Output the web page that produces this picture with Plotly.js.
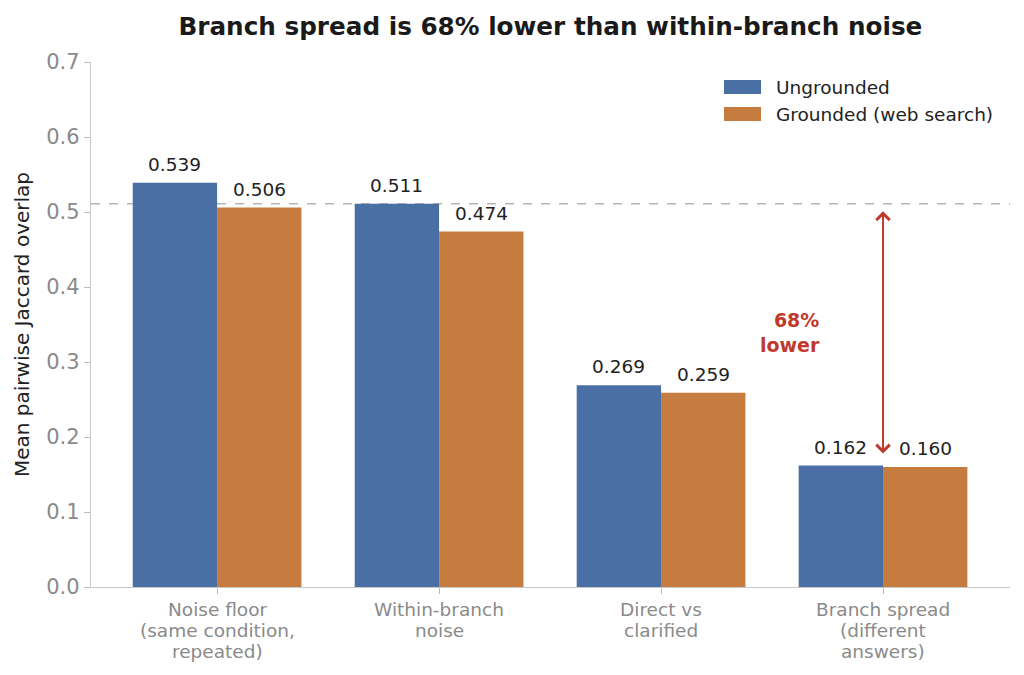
<!DOCTYPE html>
<html>
<head>
<meta charset="utf-8">
<script src="https://cdn.plot.ly/plotly-3.0.1.min.js"></script>
<style>
  html, body { margin: 0; padding: 0; background: #fff; }
  #chart { width: 1024px; height: 675px; }
</style>
</head>
<body>
<div id="chart"></div>
<script>
// DATA
const categories = [
  'Noise floor<br>(same condition,<br>repeated)',
  'Within-branch<br>noise',
  'Direct vs<br>clarified',
  'Branch spread<br>(different<br>answers)'
];
const ungrounded = [0.539, 0.511, 0.269, 0.162];
const grounded = [0.506, 0.474, 0.259, 0.160];
const seriesNames = ['Ungrounded', 'Grounded (web search)'];
const yTicks = [0, 0.1, 0.2, 0.3, 0.4, 0.5, 0.6, 0.7];

const BLUE = '#4a6fa5';
const ORANGE = '#c57c3e';
const RED = '#c0392b';
const FONT = '"DejaVu Sans"';

const BAR_W = 0.38;
const xIdx = categories.map((c, i) => i);
const refLine = ungrounded[1];
const spreadLow = ungrounded[3];

function barTrace(values, name, color, offset) {
  return {
    type: 'bar',
    x: xIdx,
    y: values,
    name: name,
    width: BAR_W,
    offset: offset,
    marker: { color: color, line: { width: 0 } },
    showlegend: false,
    hoverinfo: 'skip'
  };
}

const traces = [
  barTrace(ungrounded, seriesNames[0], BLUE, -BAR_W),
  barTrace(grounded, seriesNames[1], ORANGE, 0)
];

// value labels above each bar
const valueLabels = [];
[[ungrounded, -BAR_W / 2], [grounded, BAR_W / 2]].forEach(([vals, dx]) => {
  vals.forEach((v, i) => {
    valueLabels.push({
      x: i + dx, y: v, xref: 'x', yref: 'y',
      text: v.toFixed(3),
      showarrow: false,
      yanchor: 'bottom',
      yshift: 6,
      font: { family: FONT, size: 18.5, color: '#222' }
    });
  });
});

// category labels, one line at a time (tighter line spacing than ticktext)
const catLabels = [];
categories.forEach((c, i) => {
  c.split('<br>').forEach((line, k) => {
    catLabels.push({
      x: i, y: 0, xref: 'x', yref: 'paper',
      text: line, showarrow: false,
      xanchor: 'center', yanchor: 'middle',
      yshift: -(22 + k * 21),
      font: { family: FONT, size: 18.5, color: '#8a8a8a' }
    });
  });
});

// legend drawn as wide patches like the original
const legendColors = [BLUE, ORANGE];
const legendShapes = [];
const legendLabels = [];
seriesNames.forEach((name, k) => {
  const yPx = 87 + k * 27;
  const yPaper = 1 - (yPx - 62) / 525;
  const half = 7 / 525;
  legendShapes.push({
    type: 'rect', xref: 'paper', yref: 'paper',
    x0: (724 - 91) / 919, x1: (761 - 91) / 919,
    y0: yPaper - half, y1: yPaper + half,
    fillcolor: legendColors[k], line: { width: 0 }
  });
  legendLabels.push({
    xref: 'paper', yref: 'paper',
    x: (774 - 91) / 919, y: yPaper,
    xanchor: 'left', yanchor: 'middle',
    text: name, showarrow: false,
    font: { family: FONT, size: 18.5, color: '#222' }
  });
});

const layout = {
  width: 1024,
  height: 675,
  paper_bgcolor: '#fff',
  plot_bgcolor: '#fff',
  font: { family: FONT, color: '#222' },
  margin: { l: 91, r: 14, t: 62, b: 88, pad: 0 },
  title: {
    text: '<b>Branch spread is 68% lower than within-branch noise</b>',
    font: { family: FONT, size: 24.7, color: '#1a1a1a' },
    x: 0.5375,
    xanchor: 'center',
    y: 0.961,
    yanchor: 'middle'
  },
  showlegend: false,
  xaxis: {
    range: [-0.568, 3.572],
    tickvals: xIdx,
    showticklabels: false,
    ticks: 'outside',
    ticklen: 6,
    tickcolor: '#bbb',
    showline: true,
    linecolor: '#c8c8c8',
    linewidth: 1.2,
    showgrid: false,
    zeroline: false
  },
  yaxis: {
    range: [0, 0.7],
    tickvals: yTicks,
    tickformat: '.1f',
    tickfont: { family: FONT, size: 21, color: '#8a8a8a' },
    ticks: 'outside',
    ticklen: 6,
    tickcolor: '#bbb',
    showline: true,
    linecolor: '#c8c8c8',
    linewidth: 1.2,
    showgrid: false,
    zeroline: false
  },
  shapes: [{
    type: 'line',
    xref: 'paper',
    x0: 0, x1: 1,
    yref: 'y',
    y0: refLine, y1: refLine,
    line: { color: '#b5b5b5', width: 1.6, dash: 'dash' },
    layer: 'below'
  }].concat(legendShapes),
  annotations: [
    {
      // y axis title
      xref: 'paper', yref: 'paper',
      x: (22 - 91) / 919, y: 1 - (325 - 62) / 525,
      xanchor: 'center', yanchor: 'middle',
      textangle: -90,
      text: 'Mean pairwise Jaccard overlap',
      showarrow: false,
      font: { family: FONT, size: 20, color: '#222' }
    },
    {
      x: 3, y: refLine - 0.01,
      xref: 'x', yref: 'y',
      ax: 3, ay: spreadLow + 0.014,
      axref: 'x', ayref: 'y',
      showarrow: true,
      arrowhead: 4,
      arrowside: 'end+start',
      arrowsize: 1.3,
      arrowwidth: 2,
      arrowcolor: RED,
      text: ''
    },
    {
      x: 2.725, y: 0.339,
      xref: 'x', yref: 'y',
      text: '<b>68%<br>lower</b>',
      showarrow: false,
      align: 'right',
      xanchor: 'right',
      yanchor: 'middle',
      font: { family: FONT, size: 19, color: RED }
    }
  ].concat(valueLabels, catLabels, legendLabels)
};

Plotly.newPlot('chart', traces, layout, { displayModeBar: false, staticPlot: true });
</script>
</body>
</html>
